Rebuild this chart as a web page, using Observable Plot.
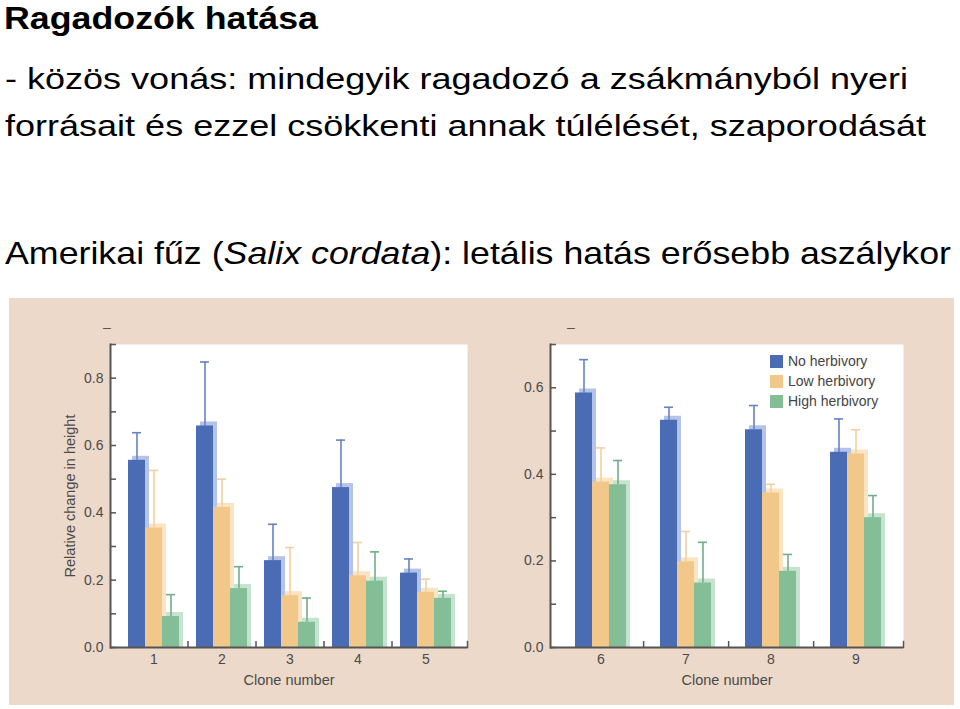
<!DOCTYPE html>
<html>
<head>
<meta charset="utf-8">
<script src="https://cdn.jsdelivr.net/npm/d3@7"></script>
<script src="https://cdn.jsdelivr.net/npm/@observablehq/plot@0.6"></script>
<style>
  html, body { margin: 0; padding: 0; background: #ffffff; }
  body { width: 960px; height: 709px; position: relative; overflow: hidden; font-family: "Liberation Sans", Arial, Helvetica, sans-serif; }
  #header { position: absolute; left: 0; top: 0; }
  #panel { position: absolute; left: 9px; top: 298px; width: 945px; height: 407px; background: #ecd9ca; }
  .chart { position: absolute; top: 17px; }
  .dash { position: absolute; font-size: 14px; color: #555; line-height: 1; }
  #legend { position: absolute; left: 761px; top: 53px; font-size: 14px; color: #444; }
  #legend .row { display: flex; align-items: center; height: 20px; }
  #legend .sw { width: 13px; height: 13px; margin-right: 5px; }
</style>
</head>
<body>
<svg id="header" width="960" height="290" font-family="'Liberation Sans', Arial, Helvetica, sans-serif" fill="#000">
  <text x="4" y="29" font-size="31" font-weight="bold" textLength="314" lengthAdjust="spacingAndGlyphs">Ragadozók hatása</text>
  <text x="5" y="89" font-size="29" textLength="903" lengthAdjust="spacingAndGlyphs">- közös vonás: mindegyik ragadozó a zsákmányból nyeri</text>
  <text x="5" y="136" font-size="29" textLength="921" lengthAdjust="spacingAndGlyphs">forrásait és ezzel csökkenti annak túlélését, szaporodását</text>
  <text x="5" y="264" font-size="31.5" textLength="946" lengthAdjust="spacingAndGlyphs">Amerikai fűz (<tspan font-style="italic">Salix cordata</tspan>): letális hatás erősebb aszálykor</text>
</svg>
<div id="panel">
  <div class="dash" style="left:94px; top:22px;">–</div>
  <div class="dash" style="left:558px; top:22px;">–</div>
  <div id="chartL" class="chart" style="left:31px;"></div>
  <div id="chartR" class="chart" style="left:491px;"></div>
  <div id="legend"></div>
</div>
<script>
// ---- data ----
const clonesLeft = ["1", "2", "3", "4", "5"];
const clonesRight = ["6", "7", "8", "9"];
const series = ["No herbivory", "Low herbivory", "High herbivory"];
const allClones = ["1", "2", "3", "4", "5", "6", "7", "8", "9"];
const meanNo    = [0.556, 0.658, 0.258, 0.475, 0.221, 0.588, 0.525, 0.503, 0.451];
const upperNo   = [0.638, 0.848, 0.366, 0.616, 0.263, 0.665, 0.555, 0.559, 0.528];
const meanLow   = [0.355, 0.416, 0.154, 0.213, 0.164, 0.382, 0.198, 0.357, 0.447];
const upperLow  = [0.526, 0.500, 0.297, 0.312, 0.203, 0.461, 0.268, 0.377, 0.503];
const meanHigh  = [0.092, 0.175, 0.075, 0.197, 0.146, 0.376, 0.149, 0.176, 0.300];
const upperHigh = [0.157, 0.240, 0.147, 0.284, 0.167, 0.432, 0.243, 0.215, 0.351];
const yTicksLeft = [0, 0.2, 0.4, 0.6, 0.8];
const yTicksRight = [0, 0.2, 0.4, 0.6];
const yMinorLeft = [0, 0.1, 0.2, 0.3, 0.4, 0.5, 0.6, 0.7, 0.8, 0.9];
const yMinorRight = [0, 0.1, 0.2, 0.3, 0.4, 0.5, 0.6, 0.7];

// ---- styles ----
const solid  = {"No herbivory": "#4a6cb5", "Low herbivory": "#f2c88a", "High herbivory": "#84be97"};
const shadow = {"No herbivory": "#b5c3e8", "Low herbivory": "#fbe4c2", "High herbivory": "#c6e3d0"};
const errCol = {"No herbivory": "#6883c1", "Low herbivory": "#f4d09e", "High herbivory": "#72ae88"};
const axisCol = "#555";
const textCol = "#4a4a4a";

const means = [meanNo, meanLow, meanHigh];
const uppers = [upperNo, upperLow, upperHigh];
const rows = [];
allClones.forEach((c, i) => series.forEach((s, j) => rows.push({clone: c, series: s, key: c + "|" + s, value: means[j][i], upper: uppers[j][i]})));

function keysFor(clones, gaps) {
  const k = [];
  clones.forEach((c, i) => {
    series.forEach(s => k.push(c + "|" + s));
    if (i < clones.length - 1) for (let g = 0; g < gaps; g++) k.push("gap" + c + "-" + g);
  });
  return k;
}

function chart({clones, gaps, yMax, yTicks, yMinor, yLabel, width, height, mL, mR, mT, mB, po, align}) {
  const keys = keysFor(clones, gaps);
  const data = rows.filter(d => clones.includes(d.clone));
  const plotW = width - mL - mR;
  const plotH = height - mT - mB;
  const step = plotW / (keys.length + 2 * po);
  const boundary = clones.slice(0, -1).map(c => "gap" + c + "-0");
  const mids = clones.map(c => c + "|" + series[1]);
  const marks = [Plot.frame({fill: "white", stroke: null})];
  for (const s of series) {
    marks.push(Plot.barY(data.filter(d => d.series === s), {x: "key", y: "value", fill: shadow[s], dx: 4, insetTop: -4}));
  }
  for (const s of series) {
    const ds = data.filter(d => d.series === s);
    marks.push(Plot.ruleX(ds, {x: "key", y1: "value", y2: "upper", stroke: errCol[s], strokeWidth: 1.6}));
    marks.push(Plot.tickY(ds, {x: "key", y: "upper", stroke: errCol[s], strokeWidth: 1.6, insetLeft: 4, insetRight: 4}));
  }
  for (const s of series) {
    marks.push(Plot.barY(data.filter(d => d.series === s), {x: "key", y: "value", fill: solid[s]}));
  }
  marks.push(
    Plot.ruleY([0], {stroke: axisCol, strokeWidth: 2}),
    Plot.frame({anchor: "left", stroke: axisCol, strokeWidth: 2}),
    Plot.frame({anchor: "right", stroke: axisCol, strokeWidth: 1.5, insetTop: plotH - 6}),
    Plot.axisY({ticks: yMinor, tickSize: -6, text: null, stroke: axisCol, strokeWidth: 1.5, label: null}),
    Plot.axisY({ticks: yTicks, tickSize: 0, tickPadding: 7, tickFormat: d3.format(".1f"), fill: textCol, fontSize: 14, label: null}),
    Plot.axisX({ticks: boundary, tickSize: -6, text: null, stroke: axisCol, strokeWidth: 1.5, dx: gaps === 2 ? step / 2 : 0, label: null}),
    Plot.axisX({ticks: mids, tickSize: 0, tickPadding: 7, tickFormat: k => k.split("|")[0], fill: textCol, fontSize: 14, label: null}),
    Plot.text(["Clone number"], {frameAnchor: "bottom", textAnchor: "middle", lineAnchor: "middle", dy: 33, fill: textCol, fontSize: 14.5})
  );
  if (yLabel) marks.push(Plot.text([yLabel], {frameAnchor: "left", textAnchor: "middle", lineAnchor: "middle", rotate: -90, dx: -40, fill: textCol, fontSize: 14.5}));
  return Plot.plot({
    width, height, marginLeft: mL, marginRight: mR, marginTop: mT, marginBottom: mB,
    style: {background: "transparent", fontFamily: "'Liberation Sans', Arial, Helvetica, sans-serif", fontSize: "14px", color: textCol, overflow: "visible"},
    x: {type: "band", domain: keys, paddingInner: 0, paddingOuter: po, align, axis: null},
    y: {domain: [0, yMax], axis: null},
    marks
  });
}

document.getElementById("chartL").append(chart({
  clones: clonesLeft, gaps: 1, yMax: 0.9, yTicks: yTicksLeft, yMinor: yMinorLeft, yLabel: "Relative change in height",
  width: 440, height: 385, mL: 70, mR: 13, mT: 29, mB: 53, po: 0.81, align: 0.534
}));
document.getElementById("chartR").append(chart({
  clones: clonesRight, gaps: 2, yMax: 0.7, yTicks: yTicksRight, yMinor: yMinorRight, yLabel: null,
  width: 440, height: 385, mL: 50, mR: 37, mT: 29, mB: 53, po: 1.225, align: 0.537
}));

// legend
const legend = d3.select("#legend");
for (const s of series) {
  const row = legend.append("div").attr("class", "row");
  row.append("div").attr("class", "sw").style("background", solid[s]);
  row.append("span").text(s);
}
</script>
</body>
</html>
